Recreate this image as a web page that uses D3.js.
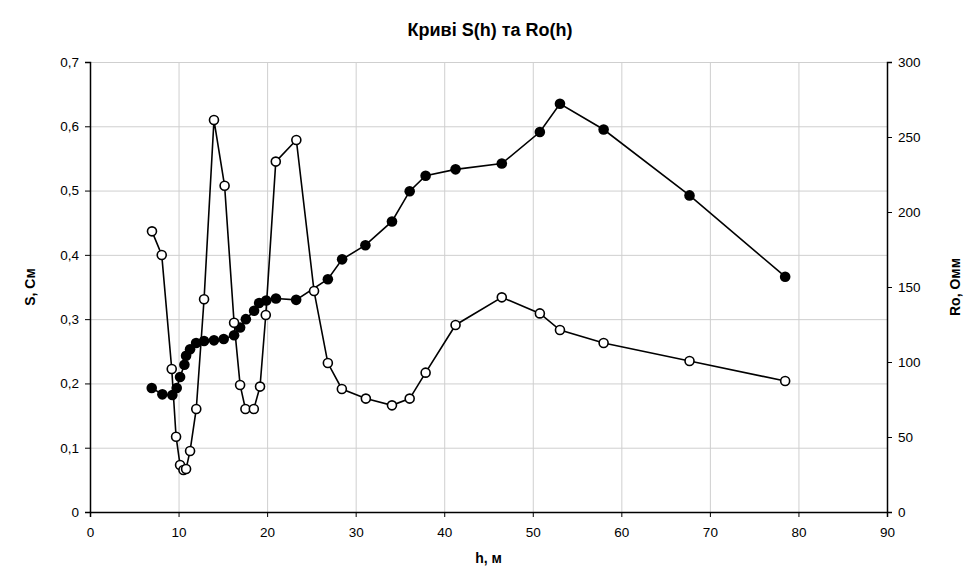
<html>
<head>
<meta charset="utf-8">
<script src="https://d3js.org/d3.v7.min.js"></script>
<style>
  body { margin: 0; background: #fff; }
  text { font-family: "Liberation Sans", Arial, sans-serif; }
  .grids line { stroke: #cfcfcf; }
  .grids .domain { stroke: none; }
</style>
</head>
<body>
<svg id="plot1" width="968" height="570"></svg>
<script>
// S(h), left axis (filled markers)
const hS = [6.97, 8.17, 9.3, 9.79, 10.17, 10.66, 10.85, 11.3, 11.98, 12.88, 14.0, 15.1, 16.27, 16.95, 17.6, 18.53, 19.1, 19.9, 21.0, 23.28, 26.86, 28.47, 31.1, 34.1, 36.1, 37.9, 41.28, 46.5, 50.8, 53.07, 58.0, 67.7, 78.5];
const sVals = [0.193, 0.183, 0.182, 0.193, 0.21, 0.229, 0.243, 0.253, 0.263, 0.266, 0.267, 0.269, 0.275, 0.287, 0.3, 0.313, 0.325, 0.329, 0.332, 0.33, 0.362, 0.393, 0.415, 0.452, 0.499, 0.523, 0.533, 0.542, 0.591, 0.635, 0.595, 0.4925, 0.366];
// Ro(h), right axis (open markers)
const hRo = [7.0, 8.1, 9.23, 9.72, 10.17, 10.55, 10.85, 11.3, 12.0, 12.88, 14.0, 15.2, 16.27, 16.95, 17.55, 18.5, 19.2, 19.85, 20.98, 23.3, 25.3, 26.86, 28.44, 31.15, 34.1, 36.1, 37.9, 41.28, 46.5, 50.8, 53.07, 58.0, 67.7, 78.5];
const roVals = [187.1, 171.3, 95.3, 50.2, 31.3, 28, 28.7, 40.7, 68.7, 141.8, 261.3, 217.5, 126.2, 84.7, 68.7, 68.7, 83.6, 131.3, 233.6, 248, 147.3, 99.3, 82, 75.6, 71.1, 75.6, 92.9, 124.7, 143.1, 132.4, 121.3, 112.7, 100.7, 87.3];

const xTicks = [0, 10, 20, 30, 40, 50, 60, 70, 80, 90];
const sTicks = [0, 0.1, 0.2, 0.3, 0.4, 0.5, 0.6, 0.7];
const roTicks = [0, 50, 100, 150, 200, 250, 300];

const margin = {left: 90, top: 62, right: 81, bottom: 58};
let svg = d3.select('svg#plot1');
let W = +svg.attr('width'), H = +svg.attr('height');
let x0 = margin.left, x1 = W - margin.right;
let y0 = H - margin.bottom, y1 = margin.top;

let xScale = d3.scaleLinear().domain([0, 90]).range([x0, x1]);
let sScale = d3.scaleLinear().domain([0, 0.7]).range([y0, y1]);
let roScale = d3.scaleLinear().domain([0, 300]).range([y0, y1]);

const fmt = d => String(d).replace('.', ',');

// gridlines
svg.append('g').attr('class', 'grids')
   .attr('transform', `translate(0,${y1})`)
   .call(d3.axisBottom(xScale).tickValues(xTicks).tickFormat('').tickSize(y0 - y1));
svg.append('g').attr('class', 'grids')
   .attr('transform', `translate(${x0},0)`)
   .call(d3.axisLeft(sScale).tickValues(sTicks).tickFormat('').tickSize(-(x1 - x0)));
svg.select('.grids:last-of-type').selectAll('.tick').filter(d => d === 0.7)
   .select('line').attr('stroke', '#999');

// axes
let gx = svg.append('g')
   .attr('transform', `translate(0,${y0})`)
   .call(d3.axisBottom(xScale).tickValues(xTicks).tickSize(5).tickPadding(10));
let gl = svg.append('g')
   .attr('transform', `translate(${x0},0)`)
   .call(d3.axisLeft(sScale).tickValues(sTicks).tickFormat(fmt).tickSize(5).tickPadding(6));
let gr = svg.append('g')
   .attr('transform', `translate(${x1},0)`)
   .call(d3.axisRight(roScale).tickValues(roTicks).tickSize(5).tickPadding(6));
[gx, gl, gr].forEach(g => {
  g.select('.domain').attr('stroke', '#000').attr('stroke-width', 1.5);
  g.selectAll('.tick line').attr('stroke', '#000');
  g.selectAll('text').attr('font-family', '"Liberation Sans", Arial, sans-serif')
   .attr('font-size', 13.5).attr('fill', '#000');
});

// lines
let sData = hS.map((h, i) => ({h: h, v: sVals[i]}));
let roData = hRo.map((h, i) => ({h: h, v: roVals[i]}));

svg.append('path').datum(sData)
   .attr('fill', 'none').attr('stroke', '#000').attr('stroke-width', 1.6)
   .attr('d', d3.line().x(d => xScale(d.h)).y(d => sScale(d.v)));
svg.append('path').datum(roData)
   .attr('fill', 'none').attr('stroke', '#000').attr('stroke-width', 1.6)
   .attr('d', d3.line().x(d => xScale(d.h)).y(d => roScale(d.v)));

svg.selectAll('circle.s').data(sData).join('circle').attr('class', 's')
   .attr('cx', d => xScale(d.h)).attr('cy', d => sScale(d.v))
   .attr('r', 5.3).attr('fill', '#000');
svg.selectAll('circle.ro').data(roData).join('circle').attr('class', 'ro')
   .attr('cx', d => xScale(d.h)).attr('cy', d => roScale(d.v))
   .attr('r', 4.5).attr('fill', '#fff').attr('stroke', '#000').attr('stroke-width', 1.6);

// titles
svg.append('text').attr('x', 490).attr('y', 36).attr('text-anchor', 'middle')
   .attr('font-size', 18).attr('font-weight', 'bold').text('Криві S(h) та Ro(h)');
svg.append('text').attr('x', (x0 + x1) / 2).attr('y', 563).attr('text-anchor', 'middle')
   .attr('font-size', 14).attr('font-weight', 'bold').text('h, м');
svg.append('text').attr('transform', `translate(35,${(y0 + y1) / 2}) rotate(-90)`)
   .attr('text-anchor', 'middle').attr('font-size', 14).attr('font-weight', 'bold').text('S, См');
svg.append('text').attr('transform', `translate(960,${(y0 + y1) / 2}) rotate(-90)`)
   .attr('text-anchor', 'middle').attr('font-size', 14).attr('font-weight', 'bold').text('Ro, Омм');
</script>
</body>
</html>
